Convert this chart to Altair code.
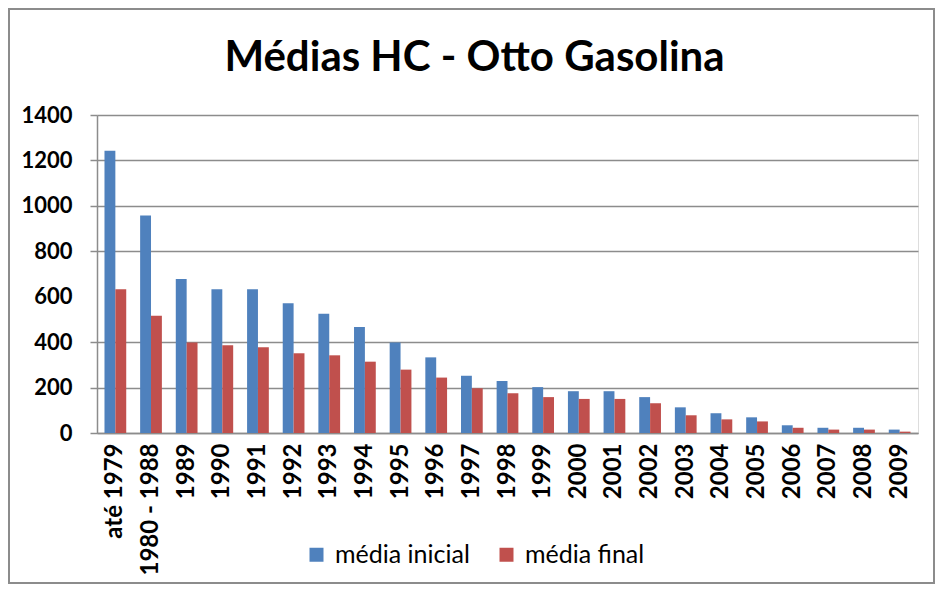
import altair as alt
import pandas as pd

categorias = ["até 1979", "1980 - 1988", "1989", "1990", "1991", "1992", "1993",
              "1994", "1995", "1996", "1997", "1998", "1999", "2000", "2001",
              "2002", "2003", "2004", "2005", "2006", "2007", "2008", "2009"]
media_inicial = [1243, 958, 678, 633, 633, 571, 525, 467, 398, 333, 252, 229,
                 202, 184, 184, 158, 113, 87, 69, 34, 23, 23, 15]
media_final = [633, 516, 398, 386, 377, 351, 342, 314, 279, 244, 197, 175,
               158, 150, 150, 131, 78, 60, 51, 23, 15, 15, 6]
series = ["média inicial", "média final"]
cores = ["#4F81BD", "#C0504D"]
y_ticks = [0, 200, 400, 600, 800, 1000, 1200, 1400]

rows = []
for c, a, b in zip(categorias, media_inicial, media_final):
    rows.append({"cat": c, "serie": series[0], "valor": a})
    rows.append({"cat": c, "serie": series[1], "valor": b})
df = pd.DataFrame(rows)

W, H = 821, 318
GRID = "#8c8c8c"

bars = alt.Chart(df).mark_bar().encode(
    x=alt.X("cat:N", sort=categorias, title=None,
            scale=alt.Scale(paddingInner=0.39, paddingOuter=0.21),
            axis=alt.Axis(labelAngle=270, labelFont="Lato", labelFontSize=24,
                          labelFontWeight="bold", labelColor="black",
                          labelPadding=10, tickSize=0, domainColor=GRID,
                          domainWidth=1.5)),
    xOffset=alt.XOffset("serie:N", sort=series),
    y=alt.Y("valor:Q", title=None,
            scale=alt.Scale(domain=[0, 1400], nice=False),
            axis=alt.Axis(values=y_ticks, format="d", labelFont="Lato",
                          labelFontSize=22, labelFontWeight="bold",
                          labelColor="black", labelPadding=18, tickSize=7,
                          tickColor={"condition": {"test": "datum.value == 600", "value": "transparent"}, "value": GRID},
                          tickWidth=1.5,
                          gridColor={"condition": {"test": "datum.value == 600", "value": "transparent"}, "value": GRID},
                          gridWidth=1.5, gridOpacity=1,
                          domainColor=GRID, domainWidth=1.5)),
    color=alt.Color("serie:N", sort=series,
                    scale=alt.Scale(domain=series, range=cores),
                    legend=alt.Legend(orient="none", legendX=207, legendY=427,
                                      direction="horizontal", title=None,
                                      symbolType="square", symbolSize=196,
                                      symbolStrokeWidth=0, labelFont="Lato",
                                      labelFontSize=25, labelColor="black",
                                      columnPadding=24, labelOffset=6)),
)

border = alt.Chart(pd.DataFrame({"a": [0]})).mark_rect(
    fillOpacity=0, stroke=GRID, strokeWidth=2
).encode(
    x=alt.value(-88), x2=alt.value(W + 16),
    y=alt.value(-106), y2=alt.value(H + 150),
)

chart = alt.layer(border, bars).properties(
    width=W, height=H,
    autosize=alt.AutoSizeParams(type="none"),
    padding={"left": 89, "top": 107, "right": 17, "bottom": 151},
    title=alt.TitleParams("Médias HC - Otto Gasolina", font="Lato",
                          fontSize=42, fontWeight="bold", color="black",
                          anchor="middle", dx=-33, offset=-72),
).configure_view(strokeWidth=0).configure(background="white")

chart.save("out.html", embed_options={"renderer": "svg", "actions": False})
